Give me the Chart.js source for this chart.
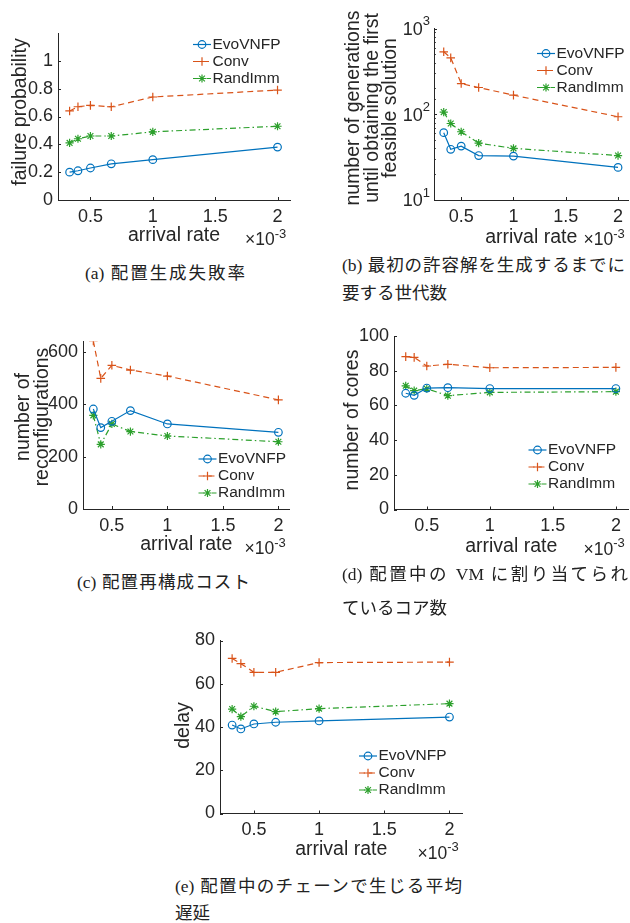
<!DOCTYPE html>
<html>
<head>
<meta charset="utf-8">
<script src="https://cdn.jsdelivr.net/npm/chart.js@4.4.1/dist/chart.umd.min.js"></script>
<style>
  body { margin: 0; background: #fff; width: 630px; height: 923px; position: relative; overflow: hidden; }
  canvas { position: absolute; }
  .cap { position: absolute; font-family: "Liberation Serif", "Noto Sans CJK JP", serif; font-size: 17.5px;
         line-height: 17.5px; color: #222; white-space: nowrap; }
  .just { text-align: justify; text-align-last: justify; }
</style>
</head>
<body>
<canvas id="chart-a" width="315" height="255" style="left:0;top:0"></canvas>
<canvas id="chart-b" width="315" height="255" style="left:315px;top:0"></canvas>
<canvas id="chart-c" width="315" height="255" style="left:0;top:310px"></canvas>
<canvas id="chart-d" width="315" height="255" style="left:315px;top:310px"></canvas>
<canvas id="chart-e" width="330" height="255" style="left:150px;top:610px"></canvas>

<div class="cap just" style="left:85px;top:265px;width:160px">(a) 配置生成失敗率</div>
<div class="cap just" style="left:342px;top:257px;width:283px">(b) 最初の許容解を生成するまでに</div>
<div class="cap" style="left:342px;top:285px">要する世代数</div>
<div class="cap just" style="left:77px;top:574px;width:173px">(c) 配置再構成コスト</div>
<div class="cap just" style="left:342px;top:566px;width:286px">(d) 配置中の VM に割り当てられ</div>
<div class="cap" style="left:342px;top:600px">ているコア数</div>
<div class="cap just" style="left:175px;top:878px;width:287px">(e) 配置中のチェーンで生じる平均</div>
<div class="cap" style="left:175px;top:905px">遅延</div>

<script>
// arrival rate (x 10^-3)
const arrivalRate = [0.333, 0.4, 0.5, 0.667, 1, 2];
const xTicks = [0.5, 1, 1.5, 2];

// (a) failure probability
const failEvo = [0.20, 0.21, 0.23, 0.26, 0.29, 0.38];
const failConv = [0.64, 0.67, 0.68, 0.67, 0.74, 0.79];
const failRand = [0.41, 0.44, 0.46, 0.46, 0.49, 0.53];
const failTicks = [0, 0.2, 0.4, 0.6, 0.8, 1];

// (b) generations until first feasible solution (log)
const genEvo = [61, 39, 42.5, 33, 32.5, 24];
const genConv = [535, 455, 228, 205, 167, 93.5];
const genRand = [106, 78, 62.5, 46, 40, 33];

// (c) number of reconfigurations
const reconfEvo = [382, 311, 335, 376, 325, 293];
const reconfConv = [642, 499, 549, 531, 508, 417];
const reconfRand = [358, 247, 325, 296, 279, 257];
const reconfTicks = [0, 200, 400, 600];

// (d) number of cores
const coreEvo = [67, 65.8, 70, 70.2, 69.7, 69.7];
const coreConv = [88.1, 87.7, 82.7, 83.7, 81.7, 81.9];
const coreRand = [71.3, 68.5, 69.6, 65.6, 67.5, 67.9];
const coreTicks = [0, 20, 40, 60, 80, 100];

// (e) delay
const delayEvo = [40.9, 39.1, 41.4, 42.2, 42.8, 44.6];
const delayConv = [71.7, 69.3, 65.3, 65.3, 69.8, 70.0];
const delayRand = [48.3, 44.8, 49.6, 47.1, 48.5, 50.8];
const delayTicks = [0, 20, 40, 60, 80];

const seriesNames = ['EvoVNFP', 'Conv', 'RandImm'];

const AXIS = '#262626';
const FONT = '"Liberation Sans", Arial, sans-serif';
const TICK_SIZE = 18;
const STYLES = [
    { color: '#0072BD', dash: [], point: 'circle', radius: 3.8 },
    { color: '#D95319', dash: [6, 4], point: 'cross', radius: 4.3 },
    { color: '#2ca02c', dash: [6, 3, 1.5, 3], point: 'star', radius: 4.1 }
];

Chart.defaults.font.family = FONT;
Chart.defaults.color = AXIS;

function makeDatasets(lists) {
    return lists.map((vals, i) => ({
        label: seriesNames[i],
        data: arrivalRate.map((x, j) => ({ x, y: vals[j] })),
        borderColor: STYLES[i].color,
        backgroundColor: 'rgba(0,0,0,0)',
        borderWidth: 1.2,
        borderDash: STYLES[i].dash,
        pointStyle: STYLES[i].point,
        pointRadius: STYLES[i].radius,
        pointBorderWidth: 1.2,
        pointBorderColor: STYLES[i].color,
        pointBackgroundColor: 'rgba(0,0,0,0)',
        tension: 0
    }));
}

// MATLAB-like extras: inward ticks, labels, inner legend, x10^-3 note
const matPlugin = {
    id: 'mat',
    afterDraw(chart, args, o) {
        const ctx = chart.ctx;
        const a = chart.chartArea;
        const xs = chart.scales.x, ys = chart.scales.y;
        const ox = o.ox, oy = o.oy;
        ctx.save();
        ctx.strokeStyle = AXIS;
        ctx.lineWidth = 1;
        ctx.setLineDash([]);
        ctx.beginPath();
        xs.ticks.forEach(t => {
            const px = Math.round(xs.getPixelForValue(t.value)) + 0.5;
            ctx.moveTo(px, a.bottom); ctx.lineTo(px, a.bottom - 3);
        });
        ys.ticks.forEach(t => {
            const py = Math.round(ys.getPixelForValue(t.value)) + 0.5;
            const len = (o.log && !t.major) ? 1.8 : 3;
            ctx.moveTo(a.left, py); ctx.lineTo(a.left + len, py);
        });
        ctx.stroke();

        ctx.fillStyle = AXIS;
        // log tick labels 10^n
        if (o.log) {
            ys.ticks.filter(t => t.major).forEach(t => {
                const py = ys.getPixelForValue(t.value);
                const e = String(Math.round(Math.log10(t.value)));
                ctx.font = '13px ' + FONT;
                const ew = ctx.measureText(e).width;
                ctx.textAlign = 'right';
                ctx.textBaseline = 'middle';
                ctx.fillText(e, a.left - 4, py - 7);
                ctx.font = TICK_SIZE + 'px ' + FONT;
                ctx.fillText('10', a.left - 4 - ew, py + 1.5);
            });
        }

        // y label (rotated, possibly several lines)
        ctx.font = '19.5px ' + FONT;
        ctx.textAlign = 'center';
        ctx.textBaseline = 'middle';
        ctx.save();
        ctx.translate(o.ylabel.x - ox, o.ylabel.y - oy);
        ctx.rotate(-Math.PI / 2);
        o.ylabel.lines.forEach((s, i) => ctx.fillText(s, 0, i * 18.5));
        ctx.restore();

        // x label
        ctx.fillText('arrival rate', (a.left + a.right) / 2, o.xlabelY - oy);

        // x10^-3
        ctx.textAlign = 'left';
        ctx.textBaseline = 'alphabetic';
        const ex = a.right - 45, ey = a.bottom + 45;
        ctx.font = '17.5px ' + FONT;
        ctx.fillText('\u00d710', ex, ey);
        const w10 = ctx.measureText('\u00d710').width;
        ctx.font = '13px ' + FONT;
        ctx.fillText('-3', ex + w10, ey - 7.5);

        // legend inside axes
        const lg = o.legend;
        ctx.font = '15.5px ' + FONT;
        ctx.textBaseline = 'middle';
        chart.data.datasets.forEach((ds, i) => {
            const y = lg.y + i * 17 - oy;
            const x0 = lg.x - ox, x1 = x0 + 18;
            ctx.strokeStyle = ds.borderColor;
            ctx.lineWidth = 1.2;
            ctx.setLineDash(ds.borderDash);
            ctx.beginPath();
            ctx.moveTo(x0, y); ctx.lineTo(x1, y);
            ctx.stroke();
            ctx.setLineDash([]);
            ctx.fillStyle = 'rgba(0,0,0,0)';
            Chart.helpers.drawPoint(ctx, {
                pointStyle: ds.pointStyle, radius: ds.pointRadius, rotation: 0, borderWidth: 1.2
            }, (x0 + x1) / 2, y);
            ctx.fillStyle = AXIS;
            ctx.fillText(ds.label, x1 + 1.5, y);
        });
        ctx.restore();
    }
};

function makeChart(id, spec) {
    const { ox, oy, w, h, area } = spec;
    const yScale = {
        type: spec.log ? 'logarithmic' : 'linear',
        min: spec.ymin, max: spec.ymax,
        grid: { display: false, drawTicks: false },
        border: { color: AXIS, width: 1 },
        ticks: {
            display: !spec.log, padding: 5, font: { size: TICK_SIZE }, color: AXIS,
            callback: v => String(v)
        },
        afterFit: s => { s.width = area.l - ox; }
    };
    if (!spec.log) {
        yScale.afterBuildTicks = s => { s.ticks = spec.yTicks.map(v => ({ value: v })); };
    }
    return new Chart(document.getElementById(id), {
        type: 'line',
        data: { datasets: makeDatasets(spec.series) },
        options: {
            responsive: false,
            animation: false,
            devicePixelRatio: 1,
            layout: { autoPadding: false, padding: { top: area.t - oy, right: ox + w - area.r, left: 0, bottom: 0 } },
            plugins: {
                legend: { display: false },
                tooltip: { enabled: false },
                mat: {
                    ox, oy, log: !!spec.log,
                    ylabel: spec.ylabel, xlabelY: spec.xlabelY, legend: spec.legend
                }
            },
            scales: {
                x: {
                    type: 'linear', min: 0.24, max: 2.1,
                    grid: { display: false, drawTicks: false },
                    border: { color: AXIS, width: 1 },
                    ticks: { padding: 6, font: { size: TICK_SIZE }, color: AXIS, maxRotation: 0, autoSkip: false, callback: v => String(v) },
                    afterBuildTicks: s => { s.ticks = xTicks.map(v => ({ value: v })); },
                    afterFit: s => { s.height = oy + h - area.b; }
                },
                y: yScale
            }
        },
        plugins: [matPlugin]
    });
}

makeChart('chart-a', {
    ox: 0, oy: 0, w: 315, h: 255,
    area: { l: 58, t: 33, r: 290, b: 200 },
    ymin: 0, ymax: 1.2, yTicks: failTicks,
    series: [failEvo, failConv, failRand],
    ylabel: { x: 21, y: 112, lines: ['failure probability'] },
    xlabelY: 236,
    legend: { x: 193, y: 44.5 }
});

makeChart('chart-b', {
    ox: 315, oy: 0, w: 315, h: 255,
    area: { l: 434, t: 28.5, r: 628.5, b: 200 },
    log: true, ymin: 10, ymax: 1000,
    series: [genEvo, genConv, genRand],
    ylabel: { x: 354, y: 108, lines: ['number of generations', 'until obtaining the first', 'feasible solution'] },
    xlabelY: 238,
    legend: { x: 537, y: 53.5 }
});

makeChart('chart-c', {
    ox: 0, oy: 310, w: 315, h: 255,
    area: { l: 83, t: 341.5, r: 289.5, b: 509 },
    ymin: 0, ymax: 640, yTicks: reconfTicks,
    series: [reconfEvo, reconfConv, reconfRand],
    ylabel: { x: 24, y: 417, lines: ['number of', 'reconfigurations'] },
    xlabelY: 545,
    legend: { x: 198.5, y: 459 }
});

makeChart('chart-d', {
    ox: 315, oy: 310, w: 315, h: 255,
    area: { l: 394, t: 336, r: 628.5, b: 509.5 },
    ymin: 0, ymax: 100, yTicks: coreTicks,
    series: [coreEvo, coreConv, coreRand],
    ylabel: { x: 352.5, y: 420, lines: ['number of cores'] },
    xlabelY: 546.5,
    legend: { x: 528.5, y: 450 }
});

makeChart('chart-e', {
    ox: 150, oy: 610, w: 330, h: 255,
    area: { l: 220, t: 640.5, r: 462.5, b: 813.5 },
    ymin: 0, ymax: 80, yTicks: delayTicks,
    series: [delayEvo, delayConv, delayRand],
    ylabel: { x: 184, y: 725.5, lines: ['delay'] },
    xlabelY: 850,
    legend: { x: 359, y: 756 }
});
</script>
</body>
</html>
